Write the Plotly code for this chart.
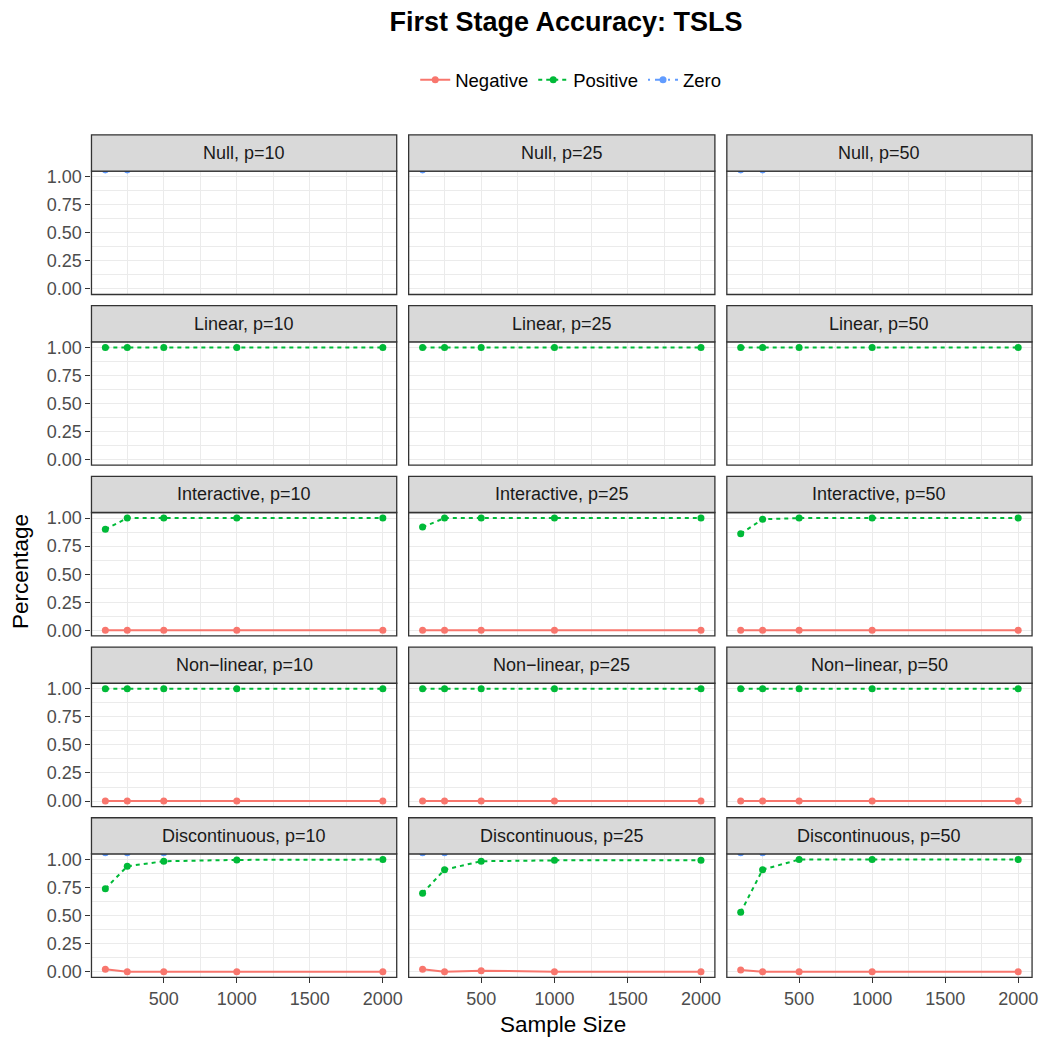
import plotly.graph_objects as go

# ---------------- data ----------------
sample_sizes = [100, 250, 500, 1000, 2000]
scenarios = ["Null", "Linear", "Interactive", "Non\u2212linear", "Discontinuous"]
p_values = [10, 25, 50]
series_names = ["Negative", "Positive", "Zero"]
y_tick_vals = [0, 0.25, 0.5, 0.75, 1.0]
y_tick_text = ["0.00", "0.25", "0.50", "0.75", "1.00"]
x_tick_vals = [500, 1000, 1500, 2000]
x_tick_text = ["500", "1000", "1500", "2000"]

N = None
# each list: [p=10, p=25, p=50]
null_negative = [[N] * 5, [N] * 5, [N] * 5]
null_positive = [[N] * 5, [N] * 5, [N] * 5]
null_zero = [[1.06, 1.06, N, N, N], [1.06, N, N, N, N], [1.06, 1.06, N, N, N]]

linear_negative = [[N] * 5, [N] * 5, [N] * 5]
linear_positive = [[1, 1, 1, 1, 1], [1, 1, 1, 1, 1], [1, 1, 1, 1, 1]]
linear_zero = [[N] * 5, [N] * 5, [N] * 5]

interactive_negative = [[0, 0, 0, 0, 0], [0, 0, 0, 0, 0], [0, 0, 0, 0, 0]]
interactive_positive = [[0.90, 1.0, 1.0, 1.0, 1.0], [0.92, 1.0, 1.0, 1.0, 1.0], [0.86, 0.99, 1.0, 1.0, 1.0]]
interactive_zero = [[N] * 5, [N] * 5, [N] * 5]

nonlinear_negative = [[0, 0, 0, 0, 0], [0, 0, 0, 0, 0], [0, 0, 0, 0, 0]]
nonlinear_positive = [[1, 1, 1, 1, 1], [1, 1, 1, 1, 1], [1, 1, 1, 1, 1]]
nonlinear_zero = [[N] * 5, [N] * 5, [N] * 5]

discontinuous_negative = [[0.022, 0.0, 0.0, 0.0, 0.0], [0.022, 0.0, 0.01, 0.0, 0.0], [0.016, 0.0, 0.0, 0.0, 0.0]]
discontinuous_positive = [[0.74, 0.94, 0.985, 0.997, 1.0], [0.70, 0.91, 0.985, 0.993, 0.993], [0.53, 0.91, 1.0, 1.0, 1.0]]
discontinuous_zero = [[1.06, 1.06, 1.06, N, N], [1.06, 1.06, N, N, N], [1.06, 1.06, N, N, N]]

negative_by_scenario = [null_negative, linear_negative, interactive_negative, nonlinear_negative, discontinuous_negative]
positive_by_scenario = [null_positive, linear_positive, interactive_positive, nonlinear_positive, discontinuous_positive]
zero_by_scenario = [null_zero, linear_zero, interactive_zero, nonlinear_zero, discontinuous_zero]

# ---------------- styles ----------------
W = H = 1050
FONT = "Liberation Sans, Arial, Helvetica, sans-serif"
colors = {"Negative": "#F8766D", "Positive": "#00BA38", "Zero": "#619CFF"}
dashes = {"Negative": "solid", "Positive": "4px,4px", "Zero": "2px,5px,8px,5px"}

col_left = [92, 411, 731]
col_right = [399, 719, 1038]
panel_top0 = 168.5
row_step = 172.2
panel_h = 124.5
strip_h = 36.5

fig = go.Figure()
shapes = []
annotations = []
layout_axes = {}

for r in range(5):
    for c in range(3):
        k = r * 3 + c + 1
        xname = "x" if k == 1 else f"x{k}"
        yname = "y" if k == 1 else f"y{k}"
        xa = "xaxis" if k == 1 else f"xaxis{k}"
        ya = "yaxis" if k == 1 else f"yaxis{k}"
        L, R = col_left[c], col_right[c]
        T = panel_top0 + r * row_step
        B = T + panel_h
        bottom_row = (r == 4)
        left_col = (c == 0)
        layout_axes[xa] = dict(
            domain=[L / W, R / W], range=[5, 2095], anchor=yname,
            tickvals=x_tick_vals, ticktext=x_tick_text,
            showticklabels=bottom_row, ticks="outside" if bottom_row else "",
            ticklen=5, tickwidth=1.2, tickcolor="#333333",
            tickfont=dict(family=FONT, size=18, color="#4D4D4D"),
            showgrid=True, gridcolor="#EBEBEB", gridwidth=1.4,
            minor=dict(tickvals=[250, 750, 1250, 1750], showgrid=True,
                       gridcolor="#EBEBEB", gridwidth=0.7, ticks=""),
            zeroline=False, showline=False, fixedrange=True,
        )
        layout_axes[ya] = dict(
            domain=[1 - B / H, 1 - T / H], range=[-0.05, 1.05], anchor=xname,
            tickvals=y_tick_vals, ticktext=y_tick_text,
            showticklabels=left_col, ticks="outside" if left_col else "",
            ticklen=5, tickwidth=1.2, tickcolor="#333333",
            tickfont=dict(family=FONT, size=18, color="#4D4D4D"),
            showgrid=True, gridcolor="#EBEBEB", gridwidth=1.4,
            minor=dict(tickvals=[0.125, 0.375, 0.625, 0.875], showgrid=True,
                       gridcolor="#EBEBEB", gridwidth=0.7, ticks=""),
            zeroline=False, showline=False, fixedrange=True,
        )
        series_vals = {
            "Negative": negative_by_scenario[r][c],
            "Positive": positive_by_scenario[r][c],
            "Zero": zero_by_scenario[r][c],
        }
        for name in series_names:
            fig.add_trace(go.Scatter(
                x=sample_sizes, y=series_vals[name], xaxis=xname, yaxis=yname,
                mode="lines+markers", name=name, legendgroup=name,
                showlegend=(k == 1), connectgaps=False, cliponaxis=True,
                line=dict(color=colors[name], width=2, dash=dashes[name]),
                marker=dict(color=colors[name], size=7),
                hoverinfo="skip",
            ))
        # panel border
        shapes.append(dict(type="rect", xref="paper", yref="paper",
                           x0=L / W, x1=R / W, y0=1 - B / H, y1=1 - T / H,
                           line=dict(color="#333333", width=1.3),
                           fillcolor="rgba(0,0,0,0)", layer="above"))
        # strip
        shapes.append(dict(type="rect", xref="paper", yref="paper",
                           x0=L / W, x1=R / W, y0=1 - T / H, y1=1 - (T - strip_h) / H,
                           line=dict(color="#333333", width=1.3),
                           fillcolor="#D9D9D9", layer="above"))
        annotations.append(dict(
            xref="paper", yref="paper", x=(L + R) / 2 / W, y=1 - (T - strip_h / 2) / H,
            text=f"{scenarios[r]}, p={p_values[c]}", showarrow=False,
            xanchor="center", yanchor="middle",
            font=dict(family=FONT, size=18, color="#1A1A1A")))

# axis titles
annotations.append(dict(xref="paper", yref="paper", x=566 / W, y=1 - 1029 / H,
                        text="Sample Size", showarrow=False, xanchor="center", yanchor="middle",
                        font=dict(family=FONT, size=22.5, color="#000000")))
annotations.append(dict(xref="paper", yref="paper", x=20 / W, y=1 - 572 / H,
                        text="Percentage", showarrow=False, textangle=-90,
                        xanchor="center", yanchor="middle",
                        font=dict(family=FONT, size=22.5, color="#000000")))

fig.update_layout(
    width=W, height=H, margin=dict(l=0, r=0, t=0, b=0),
    paper_bgcolor="white", plot_bgcolor="white",
    title=dict(text="<b>First Stage Accuracy: TSLS</b>", x=566 / W, y=1 - 22 / H,
               xanchor="center", yanchor="middle",
               font=dict(family=FONT, size=27, color="#000000")),
    legend=dict(orientation="h", x=574 / W, y=1 - 77 / H, xanchor="center", yanchor="middle",
                font=dict(family=FONT, size=18.5, color="#000000"),
                bgcolor="rgba(0,0,0,0)", itemwidth=30, tracegroupgap=0),
    shapes=shapes, annotations=annotations,
    **layout_axes,
)

fig.write_html("out.html")
